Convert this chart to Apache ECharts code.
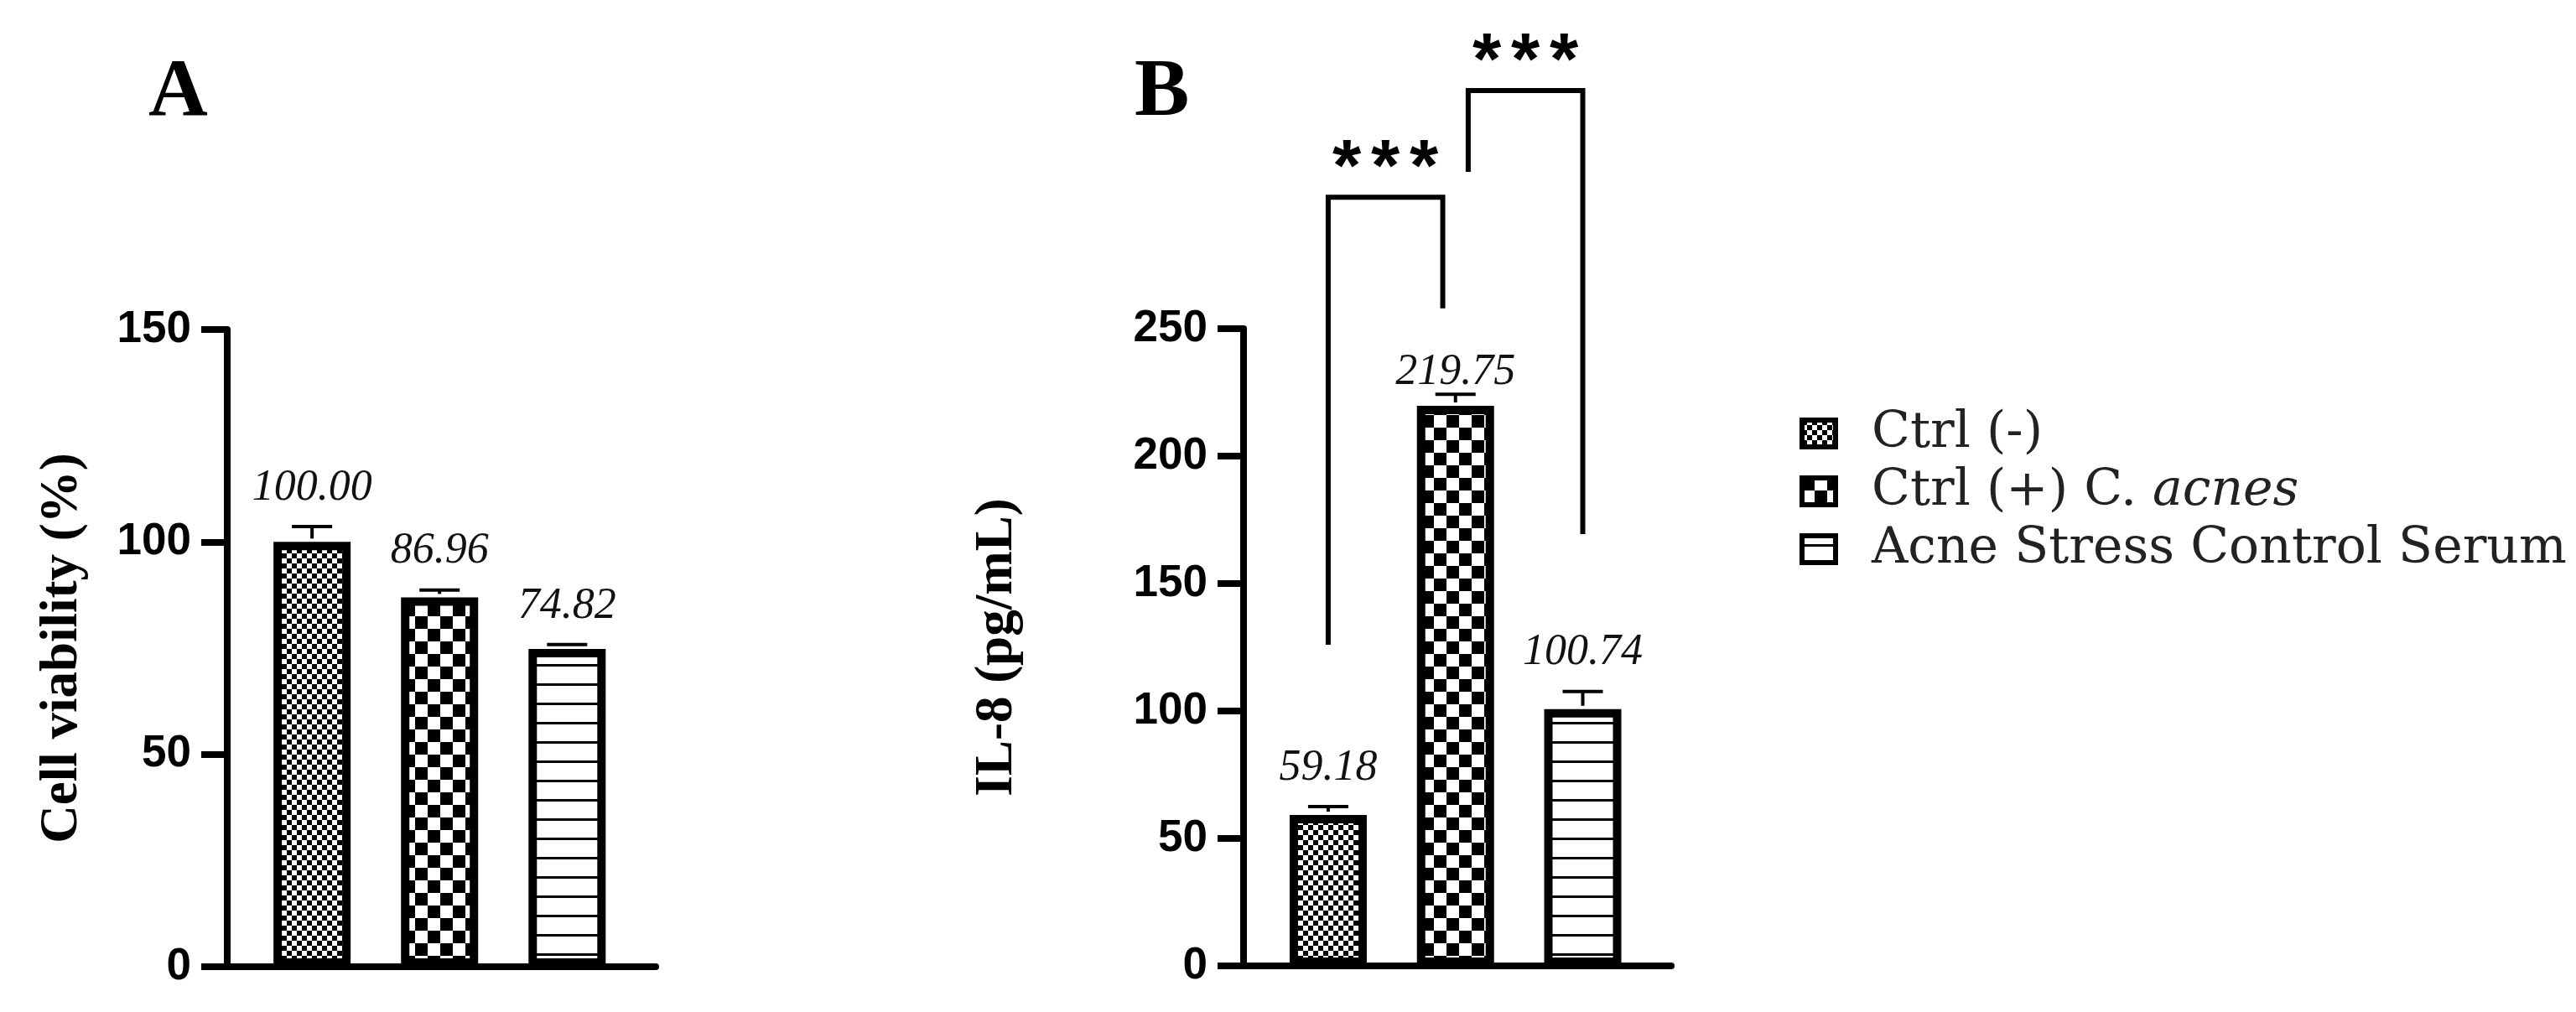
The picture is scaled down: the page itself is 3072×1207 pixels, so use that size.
<!DOCTYPE html>
<html><head><meta charset="utf-8">
<script src="https://cdn.jsdelivr.net/npm/echarts@6/dist/echarts.min.js"></script>
<style>html,body{margin:0;padding:0;background:#fff}#c{width:3072px;height:1207px}</style>
</head><body><div id="c"></div>
<script>
// ---------- data ----------
const groups = ['Ctrl (-)', 'Ctrl (+) C. acnes', 'Acne Stress Control Serum'];
const groupPos = [1, 2, 3];
const viability = [100.00, 86.96, 74.82];
const viabilitySD = [3.6, 1.7, 1.0];
const il8 = [59.18, 219.75, 100.74];
const il8SD = [3.3, 4.5, 6.9];
const viabilityAxis = {min: 0, max: 150, interval: 50};
const il8Axis = {min: 0, max: 250, interval: 50};
// significance brackets: [fromPos, toPos, topValue, leftFootValue, rightFootValue]
const sigBrackets = [
  [1, 1.9, 301.6, 126, 258],
  [2.1, 3, 343.4, 311.5, 169.4]
];
const sigLabels = ['***', '***'];

// ---------- patterns ----------
function makePattern(kind) {
  const c = document.createElement('canvas');
  let ctx;
  if (kind === 'fine') {
    c.width = 12; c.height = 12; ctx = c.getContext('2d');
    ctx.fillStyle = '#fff'; ctx.fillRect(0, 0, 12, 12);
    ctx.fillStyle = '#000'; ctx.fillRect(0, 0, 6, 6); ctx.fillRect(6, 6, 6, 6);
  } else if (kind === 'coarse') {
    c.width = 30; c.height = 30; ctx = c.getContext('2d');
    ctx.fillStyle = '#fff'; ctx.fillRect(0, 0, 30, 30);
    ctx.fillStyle = '#000'; ctx.fillRect(0, 0, 15, 15); ctx.fillRect(15, 15, 15, 15);
  } else {
    c.width = 8; c.height = 23; ctx = c.getContext('2d');
    ctx.fillStyle = '#fff'; ctx.fillRect(0, 0, 8, 23);
    ctx.fillStyle = '#000'; ctx.fillRect(0, 10, 8, 3);
  }
  return {image: c, repeat: 'repeat'};
}
const patterns = [makePattern('fine'), makePattern('coarse'), makePattern('lines')];

const chart = echarts.init(document.getElementById('c'), null, {renderer: 'canvas'});

const AX = '#000';
// label lift above the error cap (px); the 219.75 label sits close to its cap in the original
const labelLift = [[20, 20, 20], [20, 0, 20]];
const LEG_FONT = 'DejaVu Serif';

function yAxisDef(gridIndex, cfg, name, gap) {
  return {
    type: 'value', gridIndex, min: cfg.min, max: cfg.max, interval: cfg.interval,
    name, nameLocation: 'middle', nameGap: gap, nameRotate: 90,
    nameTextStyle: {fontFamily: 'Liberation Serif', fontWeight: 'bold', fontSize: 63, color: AX},
    axisLine: {show: true, lineStyle: {color: AX, width: 8}},
    axisTick: {show: true, length: 31, lineStyle: {color: AX, width: 8}},
    axisLabel: {fontFamily: 'Liberation Sans', fontWeight: 'bold', fontSize: 53, color: AX, margin: 43},
    splitLine: {show: false}
  };
}
function xAxisDef(gridIndex) {
  return {
    type: 'value', gridIndex, min: 0.335, max: 3.695,
    axisLine: {show: true, onZero: false, lineStyle: {color: AX, width: 8}},
    axisTick: {show: false}, axisLabel: {show: false}, splitLine: {show: false}
  };
}
function barSeries(gridIndex, values) {
  return groups.map((g, i) => ({
    name: g, type: 'bar', xAxisIndex: gridIndex, yAxisIndex: gridIndex,
    barWidth: 92, barGap: '-100%', silent: true,
    data: [[groupPos[i], values[i]]],
    itemStyle: {color: patterns[i], borderColor: '#000', borderWidth: 10}
  }));
}
function errSeries(gridIndex, values, sds) {
  return {
    type: 'custom', xAxisIndex: gridIndex, yAxisIndex: gridIndex, z: 5, silent: true, clip: false,
    data: values.map((v, i) => [groupPos[i], v, sds[i]]),
    renderItem(params, api) {
      const x = api.value(0), v = api.value(1), sd = api.value(2);
      const base = api.coord([x, v]);
      const top = api.coord([x, v + sd]);
      const hw = 24;
      const lift = labelLift[gridIndex][params.dataIndex];
      return {type: 'group', children: [
        {type: 'line', shape: {x1: base[0], y1: base[1] - 4, x2: top[0], y2: top[1]}, style: {stroke: '#000', lineWidth: 4}},
        {type: 'line', shape: {x1: top[0] - hw, y1: top[1], x2: top[0] + hw, y2: top[1]}, style: {stroke: '#000', lineWidth: 4}},
        {type: 'text', z2: 10, x: top[0], y: top[1] - lift, style: {text: v.toFixed(2), font: 'italic 52px "Liberation Serif"', fill: '#111', align: 'center', verticalAlign: 'bottom'}}
      ]};
    }
  };
}
const bracketSeries = {
  type: 'custom', xAxisIndex: 1, yAxisIndex: 1, z: 5, silent: true, clip: false,
  data: sigBrackets,
  renderItem(params, api) {
    const x1 = api.value(0), x2 = api.value(1), t = api.value(2), l = api.value(3), r = api.value(4);
    const pLB = api.coord([x1, l]), pLT = api.coord([x1, t]), pRT = api.coord([x2, t]), pRB = api.coord([x2, r]);
    const cx = (pLT[0] + pRT[0]) / 2;
    const label = sigLabels[params.dataIndex];
    const n = label.length, step = 46;
    const stars = [];
    for (let k = 0; k < n; k++) {
      stars.push({type: 'text', x: cx + (k - (n - 1) / 2) * step, y: pLT[1] - 32,
        style: {text: label[k], font: 'bold 88px "Liberation Sans"', fill: '#000', align: 'center', verticalAlign: 'middle'}});
    }
    return {type: 'group', children: [
      {type: 'polyline', shape: {points: [pLB, pLT, pRT, pRB]}, style: {stroke: '#000', lineWidth: 6, fill: null, lineJoin: 'miter'}},
      ...stars
    ]};
  }
};

const option = {
  backgroundColor: '#fff',
  animation: false,
  title: [
    {text: 'A', left: 172, top: 58, textStyle: {fontFamily: 'Liberation Serif', fontWeight: 'bold', fontSize: 98, color: '#000'}},
    {text: 'B', left: 1348, top: 58, textStyle: {fontFamily: 'Liberation Serif', fontWeight: 'bold', fontSize: 98, color: '#000'}}
  ],
  grid: [
    {left: 271, top: 393, width: 511, height: 760},
    {left: 1483, top: 392, width: 510, height: 760}
  ],
  xAxis: [xAxisDef(0), xAxisDef(1)],
  yAxis: [
    yAxisDef(0, viabilityAxis, 'Cell viability (%)', 165),
    yAxisDef(1, il8Axis, 'IL-8 (pg/mL)', 262)
  ],
  legend: {
    orient: 'vertical', left: 2141, top: 482, itemWidth: 40, itemHeight: 32, itemGap: 9,
    icon: 'rect', selectedMode: false, data: groups,
    itemStyle: {borderColor: '#000', borderWidth: 6},
    formatter: name => name === groups[1] ? '{n|Ctrl (+) C. }{i|acnes}' : name,
    textStyle: {fontFamily: LEG_FONT, fontSize: 60, color: '#222', padding: [0, 0, 0, 38],
      rich: {
        n: {fontFamily: LEG_FONT, fontSize: 60, color: '#222'},
        i: {fontFamily: LEG_FONT, fontSize: 60, fontStyle: 'italic', color: '#222'}
      }}
  },
  series: [
    ...barSeries(0, viability),
    ...barSeries(1, il8),
    errSeries(0, viability, viabilitySD),
    errSeries(1, il8, il8SD),
    bracketSeries
  ]
};
chart.setOption(option);
</script>
</body></html>
